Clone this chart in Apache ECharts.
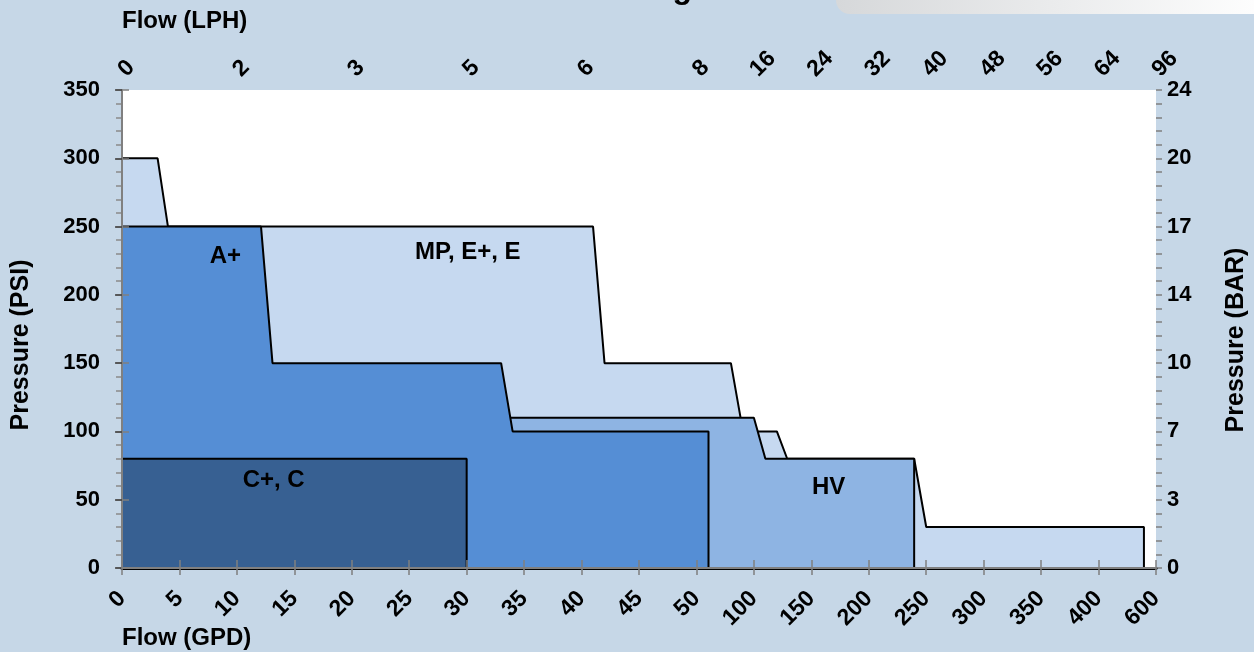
<!DOCTYPE html>
<html><head><meta charset="utf-8">
<script src="https://cdn.jsdelivr.net/npm/echarts@6/dist/echarts.min.js"></script>
<style>html,body{margin:0;padding:0;background:#c6d7e7;}#c{width:1254px;height:652px;}</style>
</head><body><div id="c"></div>
<script>
// Tick labels
const gpdTicks = [0,5,10,15,20,25,30,35,40,45,50,100,150,200,250,300,350,400,600];
const lphTickLabels = ['0','','2','','3','','5','','6','','8','16','24','32','40','48','56','64','96'];
const psiTicks = [0,50,100,150,200,250,300,350];
const barTickLabels = ['0','3','7','10','14','17','20','24'];

// Operating envelopes (flow GPD, pressure PSI)
const mpGpd = [0, 3.1, 4.0, 41.0, 42.0, 80, 90.5, 120, 129, 239.5, 250, 558, 558];
const mpPsi = [300, 300, 250, 250, 150, 150, 100, 100, 80, 80, 30, 30, 0];
const hvGpd = [30, 100, 110, 239.5, 239.5];
const hvPsi = [110, 110, 80, 80, 0];
const aGpd = [0, 12.1, 13.1, 33.0, 34.0, 60.5, 60.5];
const aPsi = [250, 250, 150, 150, 100, 100, 0];
const cGpd = [0, 30, 30];
const cPsi = [80, 80, 0];

// Region labels
const regionNames = ['A+', 'MP, E+, E', 'C+, C', 'HV'];
const regionGpd = [9.0, 30.1, 13.2, 165];
const regionPsi = [228, 231, 64, 59];

// map GPD onto the piecewise tick axis
function gpdPos(g){
  for (let i=0;i<gpdTicks.length-1;i++){
    if (g <= gpdTicks[i+1]) return i + (g - gpdTicks[i])/(gpdTicks[i+1]-gpdTicks[i]);
  }
  return gpdTicks.length-1;
}
function pts(gs, ps){ return gs.map((g,i)=>[gpdPos(g), ps[i]]); }

const FONT = 'Liberation Sans';
const lbl = {fontFamily:FONT, fontWeight:'bold', fontSize:22, color:'#000'};

function envelope(name, gs, ps, color, z){
  return {type:'line', name, z, data:pts(gs,ps), symbol:'none', xAxisIndex:0, yAxisIndex:0,
    lineStyle:{color:'#000', width:2}, areaStyle:{color, opacity:1}, silent:true};
}

const chart = echarts.init(document.getElementById('c'));
chart.setOption({
  animation:false,
  backgroundColor:'#c6d7e7',
  grid:{left:122, right:98, top:90, bottom:84, show:true, backgroundColor:'#ffffff', borderWidth:0},
  xAxis:[
    {type:'value', position:'bottom', min:0, max:18, interval:1, z:10,
     axisLine:{lineStyle:{color:'#000', width:3}},
     axisTick:{inside:false, length:7, lineStyle:{color:'#7f7f7f', width:1.5}},
     axisLabel:Object.assign({rotate:45, margin:27, formatter:v=>String(gpdTicks[Math.round(v)])}, lbl, {fontSize:23}),
     splitLine:{show:false}},
    {type:'value', position:'top', min:0, max:18, interval:1, z:10,
     axisLine:{lineStyle:{color:'#808080', width:2}},
     axisTick:{inside:false, length:8, lineStyle:{color:'#808080', width:1.5}},
     axisLabel:Object.assign({rotate:45, margin:17, formatter:v=>lphTickLabels[Math.round(v)]}, lbl, {fontSize:23}),
     splitLine:{show:false}}
  ],
  yAxis:[
    {type:'value', position:'left', min:0, max:350, interval:50, z:10,
     axisLine:{show:false},
     axisTick:{show:true, inside:false, length:7, lineStyle:{color:'#404040', width:1.5}},
     minorTick:{show:false},
     axisLabel:Object.assign({margin:22, formatter:v=>String(v)}, lbl),
     splitLine:{show:false}},
    {type:'value', position:'right', min:0, max:350, interval:50, z:10,
     axisLine:{show:true, lineStyle:{color:'#808080', width:2}},
     axisTick:{show:true, inside:false, length:7, lineStyle:{color:'#808080', width:1.5}},
     minorTick:{show:false},
     axisLabel:Object.assign({margin:11, formatter:v=>barTickLabels[psiTicks.indexOf(Math.round(v))]}, lbl),
     splitLine:{show:false}},
    // minor ticks, left
    {type:'value', position:'left', min:0, max:350, interval:10, z:9,
     axisLine:{show:false}, axisLabel:{show:false}, splitLine:{show:false},
     axisTick:{show:true, inside:false, length:6, lineStyle:{color:'#8a8a8a', width:1.5}}},
    // minor ticks, right
    {type:'value', position:'right', min:0, max:350, interval:10, z:9,
     axisLine:{show:false}, axisLabel:{show:false}, splitLine:{show:false},
     axisTick:{show:true, inside:false, length:6, lineStyle:{color:'#808080', width:1.5}}}
  ],
  series:[
    envelope('MP, E+, E', mpGpd, mpPsi, '#c6d9f0', 2),
    envelope('HV', hvGpd, hvPsi, '#8eb4e3', 3),
    envelope('A+', aGpd, aPsi, '#558ed5', 4),
    envelope('C+, C', cGpd, cPsi, '#376092', 5)
  ],
  graphic:[
    {type:'rect', shape:{x:836, y:-30, width:440, height:44, r:14}, z:1,
     style:{fill:new echarts.graphic.LinearGradient(0,0,1,0,[{offset:0,color:'#d6d8da'},{offset:1,color:'#ffffff'}])}},
    {type:'text', x:692, y:5, z:2, style:{text:'Rating', textAlign:'right', textVerticalAlign:'bottom', font:'bold 32px "Liberation Sans"', fill:'#000'}},
    {type:'text', x:122, y:21, style:{text:'Flow (LPH)', textAlign:'left', textVerticalAlign:'middle', font:'bold 24px "Liberation Sans"', fill:'#000'}},
    {type:'text', x:122, y:638, style:{text:'Flow (GPD)', textAlign:'left', textVerticalAlign:'middle', font:'bold 24px "Liberation Sans"', fill:'#000'}},
    {type:'text', x:21, y:345, rotation:Math.PI/2, style:{text:'Pressure (PSI)', textAlign:'center', textVerticalAlign:'middle', font:'bold 25px "Liberation Sans"', fill:'#000'}},
    {type:'text', x:1236, y:340, rotation:Math.PI/2, style:{text:'Pressure (BAR)', textAlign:'center', textVerticalAlign:'middle', font:'bold 25px "Liberation Sans"', fill:'#000'}}
  ]
});

// region labels placed through the chart's own coordinate conversion
const regionGraphics = regionNames.map((n,i)=>{
  const p = chart.convertToPixel({gridIndex:0}, [gpdPos(regionGpd[i]), regionPsi[i]]);
  return {type:'text', x:p[0], y:p[1], z:20,
    style:{text:n, textAlign:'center', textVerticalAlign:'middle', font:'bold 24px "Liberation Sans"', fill:'#000'}};
});
chart.setOption({graphic: chart.getOption().graphic[0].elements.concat(regionGraphics)});
</script></body></html>
